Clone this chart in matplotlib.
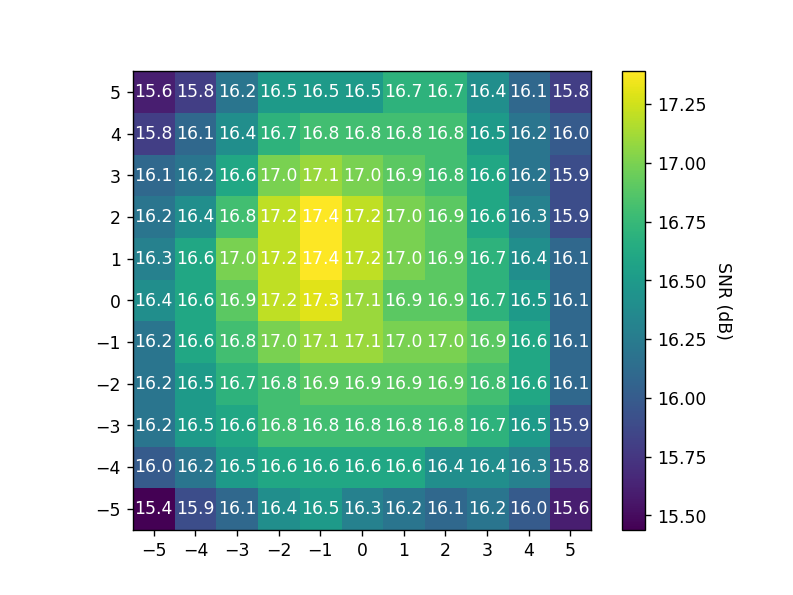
import numpy as np
import matplotlib
matplotlib.use("Agg")
import matplotlib.pyplot as plt

x_pos = [-5, -4, -3, -2, -1, 0, 1, 2, 3, 4, 5]
y_pos = [-5, -4, -3, -2, -1, 0, 1, 2, 3, 4, 5]

# SNR values in dB, rows from y=-5 (bottom) to y=5 (top)
row_m5 = [15.44, 15.9, 16.1, 16.4, 16.5, 16.3, 16.2, 16.1, 16.2, 16.0, 15.6]
row_m4 = [16.0, 16.2, 16.5, 16.6, 16.6, 16.6, 16.6, 16.4, 16.4, 16.3, 15.8]
row_m3 = [16.2, 16.5, 16.6, 16.8, 16.8, 16.8, 16.8, 16.8, 16.7, 16.5, 15.9]
row_m2 = [16.2, 16.5, 16.7, 16.8, 16.9, 16.9, 16.9, 16.9, 16.8, 16.6, 16.1]
row_m1 = [16.2, 16.6, 16.8, 17.0, 17.1, 17.1, 17.0, 17.0, 16.9, 16.6, 16.1]
row_0 = [16.4, 16.6, 16.9, 17.2, 17.3, 17.1, 16.9, 16.9, 16.7, 16.5, 16.1]
row_1 = [16.3, 16.6, 17.0, 17.2, 17.39, 17.2, 17.0, 16.9, 16.7, 16.4, 16.1]
row_2 = [16.2, 16.4, 16.8, 17.2, 17.39, 17.2, 17.0, 16.9, 16.6, 16.3, 15.9]
row_3 = [16.1, 16.2, 16.6, 17.0, 17.1, 17.0, 16.9, 16.8, 16.6, 16.2, 15.9]
row_4 = [15.8, 16.1, 16.4, 16.7, 16.8, 16.8, 16.8, 16.8, 16.5, 16.2, 16.0]
row_5 = [15.6, 15.8, 16.2, 16.5, 16.5, 16.5, 16.7, 16.7, 16.4, 16.1, 15.8]

snr = np.array([row_m5, row_m4, row_m3, row_m2, row_m1, row_0,
                row_1, row_2, row_3, row_4, row_5])

fig = plt.figure(figsize=(6.4, 4.8), dpi=124)
ax = fig.add_subplot(111)

extent = [x_pos[0] - 0.5, x_pos[-1] + 0.5, y_pos[0] - 0.5, y_pos[-1] + 0.5]
im = ax.imshow(snr, origin="lower", extent=extent, cmap="viridis")

for i, yv in enumerate(y_pos):
    for j, xv in enumerate(x_pos):
        ax.text(xv, yv, f"{snr[i, j]:.1f}", ha="center", va="center", color="white")

ax.set_xticks(x_pos)
ax.set_yticks(y_pos)

cbar = fig.colorbar(im, ax=ax)
cbar.set_label("SNR (dB)", rotation=270, labelpad=15)

fig.savefig("out.png", dpi=124)
